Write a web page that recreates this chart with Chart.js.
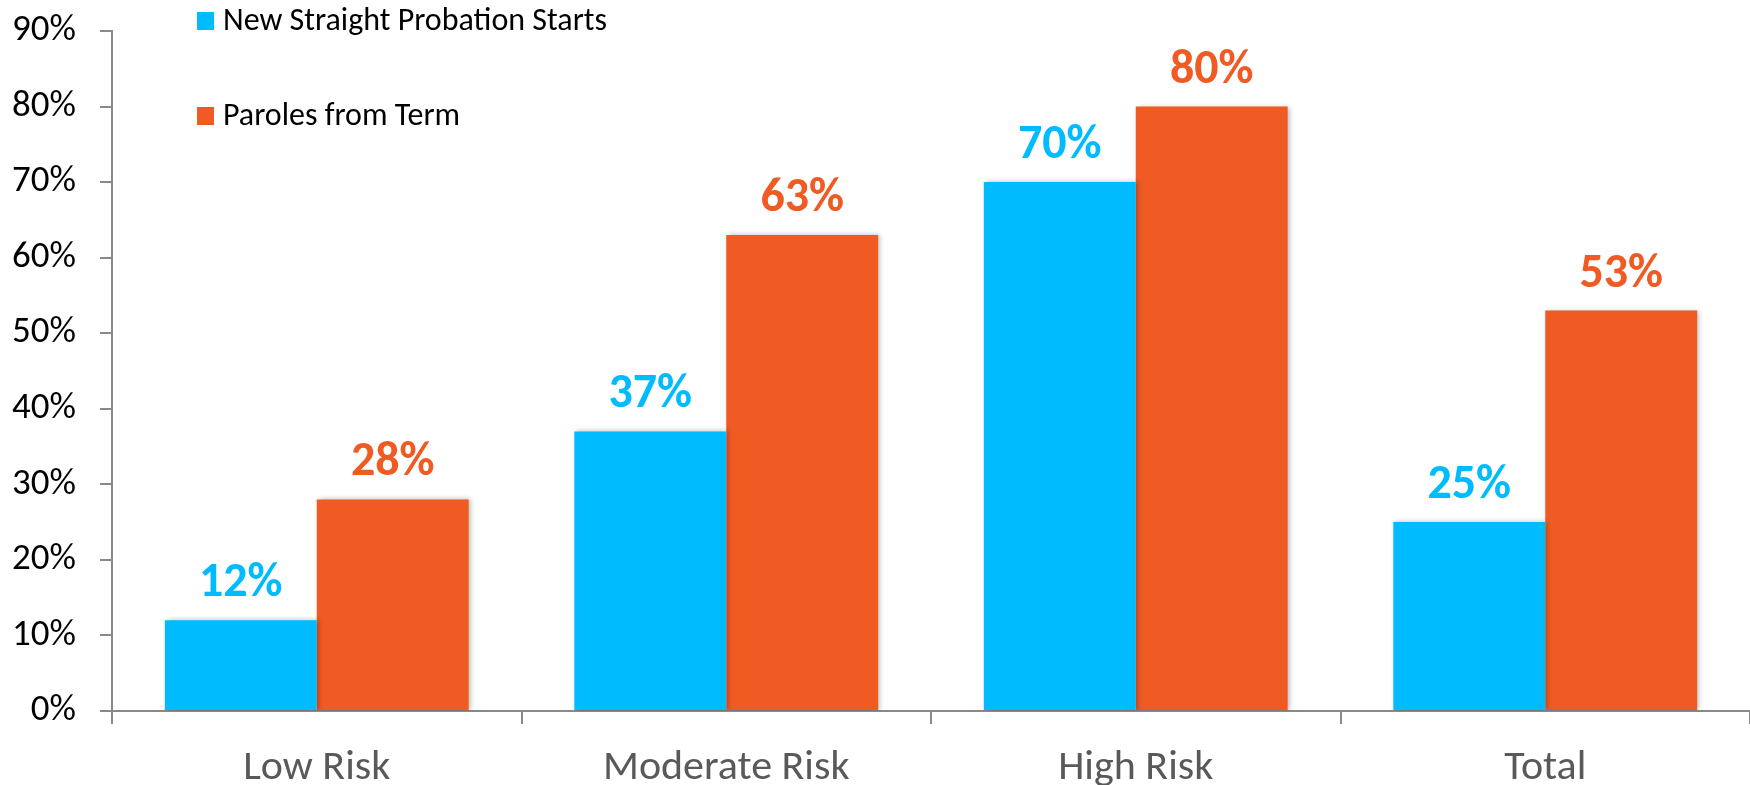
<!DOCTYPE html>
<html>
<head>
<meta charset="utf-8">
<script src="https://cdn.jsdelivr.net/npm/chart.js@4/dist/chart.umd.min.js"></script>
<style>
  html, body { margin: 0; padding: 0; background: #ffffff; }
  #wrap { width: 1750px; height: 785px; position: relative; }
</style>
</head>
<body>
<div id="wrap"><canvas id="chart" width="1750" height="785"></canvas></div>
<script>
// Share of each group by risk level
const categories = ['Low Risk', 'Moderate Risk', 'High Risk', 'Total'];
const seriesNames = ['New Straight Probation Starts', 'Paroles from Term'];
const probationStarts = [12, 37, 70, 25];
const parolesFromTerm = [28, 63, 80, 53];
const yTicks = [0, 10, 20, 30, 40, 50, 60, 70, 80, 90];

const BLUE = '#00BCFF';
const ORANGE = '#F05A23';
const AXIS = '#898989';
const FONT = "Carlito, 'Open Sans', sans-serif";

// Value labels above each bar, in the bar's own colour
const valueLabels = {
  id: 'valueLabels',
  afterDatasetsDraw(chart) {
    const ctx = chart.ctx;
    ctx.save();
    ctx.font = 'bold 48px ' + FONT;
    ctx.textAlign = 'center';
    ctx.textBaseline = 'alphabetic';
    chart.data.datasets.forEach((ds, di) => {
      const meta = chart.getDatasetMeta(di);
      ctx.fillStyle = ds.backgroundColor;
      meta.data.forEach((bar, i) => {
        ctx.fillText(Math.round(ds.data[i]) + '%', bar.x, bar.y - 24);
      });
    });
    ctx.restore();
  }
};

// Soft drop shadow to the right of the bars
const barShadow = {
  id: 'barShadow',
  beforeDatasetDraw(chart) {
    const ctx = chart.ctx;
    ctx.save();
    ctx.shadowColor = 'rgba(0,0,0,0.28)';
    ctx.shadowBlur = 5;
    ctx.shadowOffsetX = 2;
    ctx.shadowOffsetY = 0;
  },
  afterDatasetDraw(chart) {
    chart.ctx.restore();
  }
};

// Legend stacked in the top-left of the plot
const stackedLegend = {
  id: 'stackedLegend',
  afterDraw(chart) {
    const ctx = chart.ctx;
    ctx.save();
    ctx.font = '32px ' + FONT;
    ctx.textAlign = 'left';
    ctx.textBaseline = 'middle';
    chart.data.datasets.forEach((ds, i) => {
      const cy = 21 + i * 95;
      ctx.fillStyle = ds.backgroundColor;
      ctx.fillRect(197, cy - 9, 17, 18);
      ctx.fillStyle = '#000000';
      ctx.fillText(ds.label, 223, cy + 1);
    });
    ctx.restore();
  }
};

new Chart(document.getElementById('chart'), {
  type: 'bar',
  data: {
    labels: categories,
    datasets: [
      { label: seriesNames[0], data: probationStarts, backgroundColor: BLUE },
      { label: seriesNames[1], data: parolesFromTerm, backgroundColor: ORANGE }
    ]
  },
  options: {
    responsive: false,
    animation: false,
    devicePixelRatio: 1,
    layout: { padding: { top: 31, right: 0, bottom: 0, left: 0 } },
    datasets: {
      bar: { categoryPercentage: 0.742, barPercentage: 1.0, borderWidth: 0 }
    },
    plugins: {
      legend: { display: false },
      tooltip: { enabled: false }
    },
    scales: {
      x: {
        offset: true,
        afterFit(scale) {
          scale.height = 74;
          scale.paddingLeft = 0;
          scale.paddingRight = 0;
        },
        grid: {
          offset: true,
          drawOnChartArea: false,
          drawTicks: true,
          tickLength: 13,
          color: AXIS,
          lineWidth: 2
        },
        border: { display: true, color: AXIS, width: 2 },
        ticks: {
          color: '#595959',
          font: { family: FONT, size: 42 },
          padding: 19
        }
      },
      y: {
        min: 0,
        max: 90,
        afterFit(scale) {
          scale.width = 112;
          scale.paddingTop = 0;
          scale.paddingBottom = 0;
        },
        afterBuildTicks(scale) { scale.ticks = yTicks.map(v => ({ value: v })); },
        grid: {
          drawOnChartArea: false,
          drawTicks: true,
          tickLength: 12,
          color: AXIS,
          lineWidth: 2
        },
        border: { display: true, color: AXIS, width: 2 },
        ticks: {
          color: '#000000',
          font: { family: FONT, size: 37 },
          padding: 24,
          callback: v => v + '%'
        }
      }
    }
  },
  plugins: [barShadow, valueLabels, stackedLegend]
});
</script>
</body>
</html>
